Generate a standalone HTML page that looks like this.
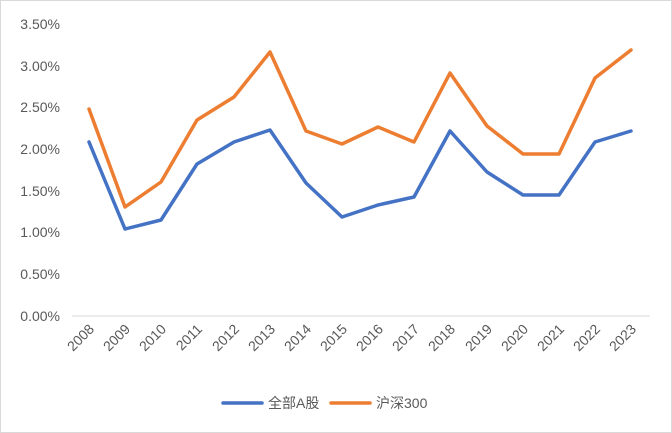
<!DOCTYPE html>
<html><head><style>
body{margin:0;background:#fff;}
svg{display:block;font-family:"Liberation Sans","Noto Sans CJK SC",sans-serif;}
</style></head><body>
<svg width="672" height="433" viewBox="0 0 672 433">
<rect x="0.5" y="0.5" width="671" height="432" fill="#fff" stroke="#d9d9d9"/>
<g font-size="14" fill="#595959" text-anchor="end">
<text x="60" y="321">0.00%</text>
<text x="60" y="279">0.50%</text>
<text x="60" y="237">1.00%</text>
<text x="60" y="196">1.50%</text>
<text x="60" y="154">2.00%</text>
<text x="60" y="112">2.50%</text>
<text x="60" y="71">3.00%</text>
<text x="60" y="29">3.50%</text>
</g>
<line x1="72" y1="316" x2="650" y2="316" stroke="#d9d9d9" stroke-width="1"/>
<g font-size="14" fill="#595959" text-anchor="end">
<text transform="translate(95,330) rotate(-45)">2008</text>
<text transform="translate(131,330) rotate(-45)">2009</text>
<text transform="translate(167,330) rotate(-45)">2010</text>
<text transform="translate(203,330) rotate(-45)">2011</text>
<text transform="translate(240,330) rotate(-45)">2012</text>
<text transform="translate(276,330) rotate(-45)">2013</text>
<text transform="translate(312,330) rotate(-45)">2014</text>
<text transform="translate(348,330) rotate(-45)">2015</text>
<text transform="translate(384,330) rotate(-45)">2016</text>
<text transform="translate(420,330) rotate(-45)">2017</text>
<text transform="translate(456,330) rotate(-45)">2018</text>
<text transform="translate(493,330) rotate(-45)">2019</text>
<text transform="translate(529,330) rotate(-45)">2020</text>
<text transform="translate(565,330) rotate(-45)">2021</text>
<text transform="translate(601,330) rotate(-45)">2022</text>
<text transform="translate(637,330) rotate(-45)">2023</text>
</g>
<polyline fill="none" stroke="#4472c4" stroke-width="3.5" stroke-linejoin="round" stroke-linecap="round"
points="89,142 125,229 161,220 197,164 234,142 270,130 306,183 342,217 378,205 414,197 450,131 487,172 523,195 559,195 595,142 631,131"/>
<polyline fill="none" stroke="#ed7d31" stroke-width="3.5" stroke-linejoin="round" stroke-linecap="round"
points="89,109 125,207 161,182 197,120 234,97 270,52 306,131 342,144 378,127 414,142 450,73 487,126 523,154 559,154 595,78 631,50"/>
<line x1="223" y1="403" x2="262" y2="403" stroke="#4472c4" stroke-width="3.5" stroke-linecap="round"/>
<text x="268" y="408" font-size="14" fill="#595959">全部A股</text>
<line x1="331" y1="403" x2="370" y2="403" stroke="#ed7d31" stroke-width="3.5" stroke-linecap="round"/>
<text x="376" y="408" font-size="14" fill="#595959">沪深300</text>
</svg>
</body></html>
